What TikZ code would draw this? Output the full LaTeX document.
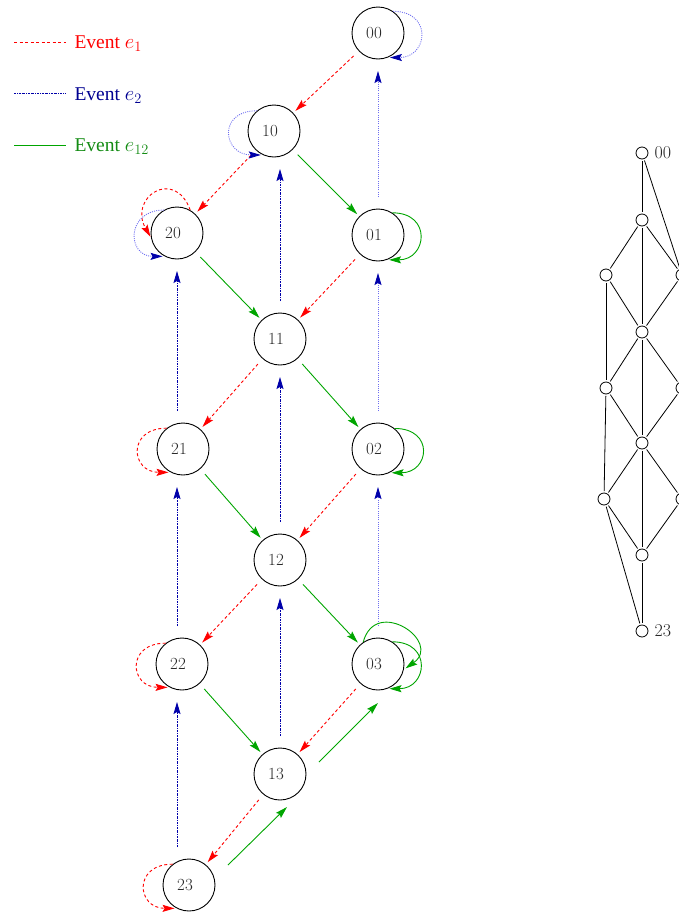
\documentclass[tikz,border=0pt]{standalone}
\usepackage{fontspec}
\newfontfamily\legendfont{Liberation Serif}
\usetikzlibrary{arrows.meta, calc}

\definecolor{evred}{RGB}{255,0,0}
\definecolor{evblue}{RGB}{0,0,170}
\definecolor{evlblue}{RGB}{110,110,240}
\definecolor{evgreen}{RGB}{0,165,0}
\definecolor{evgreendk}{RGB}{20,140,20}

\begin{document}
\begin{tikzpicture}[x=1pt,y=1pt,
  state/.style={circle,draw,line width=0.9pt,minimum size=52pt,inner sep=0pt,font=\fontsize{17}{17}\selectfont,text=black!85,execute at begin node=\hspace*{-8pt}},
  latnode/.style={circle,draw,line width=0.8pt,minimum size=12pt,inner sep=0pt},
  latlbl/.style={font=\fontsize{18}{18}\selectfont,text=black!85,inner sep=0pt,label distance=6pt},
  arrtip/.style={-{Stealth[length=12pt,width=7pt,inset=2pt]}},
  l1/.style={evred,line width=0.9pt,dash pattern=on 3pt off 2.5pt},
  l2/.style={evblue,line width=0.9pt,dash pattern=on 2pt off 1pt on 0.6pt off 1pt},
  l12/.style={evgreen,line width=0.9pt},
  e1/.style={l1,arrtip},
  e2/.style={l2,arrtip},
  e2l/.style={evlblue,line width=0.9pt,dash pattern=on 1pt off 1.2pt,-{Stealth[length=12pt,width=7pt,inset=2pt,color=evblue]}},
  e12/.style={l12,arrtip},
  diag/.style={shorten <=7pt,shorten >=3pt},
  vert/.style={shorten <=38pt,shorten >=38pt},
  rloop/.style={out=0,in=0,distance=40pt},
  lloop/.style={out=180,in=180,distance=40pt},
  lg/.style={anchor=base west,font=\legendfont\fontsize{19.5}{20}\selectfont},
  lat/.style={line width=0.8pt,shorten <=1.5pt,shorten >=1.5pt}
]
\useasboundingbox (0,0) rectangle (679,-916);

% legend
\node[lg,text=evred] (lg1) at (71,-48) {Event $e_1$};
\node[lg,text=evblue!85!black] (lg2) at (71,-100) {Event $e_2$};
\node[lg,text=evgreendk] (lg12) at (71,-151.5) {Event $e_{12}$};
\draw[l1] ([shift={(-57,6)}]lg1.base west) -- ++(52,0);
\draw[l2] ([shift={(-57,7)}]lg2.base west) -- ++(52,0);
\draw[l12] ([shift={(-57,6.5)}]lg12.base west) -- ++(52,0);

% states
\node[state] (n00) at (378,-33) {00};
\node[state] (n10) at (274,-131) {10};
\node[state] (n20) at (177,-233) {20};
\node[state] (n01) at (378,-235) {01};
\node[state] (n11) at (280,-339) {11};
\node[state] (n21) at (183,-449) {21};
\node[state] (n02) at (378,-449) {02};
\node[state] (n12) at (280,-560) {12};
\node[state] (n22) at (182,-664) {22};
\node[state] (n03) at (378,-664) {03};
\node[state] (n13) at (280,-774) {13};
\node[state] (n23) at (189,-885) {23};

% e1 moves
\foreach \a/\b in {n00/n10,n10/n20,n01/n11,n11/n21,n02/n12,n12/n22,n03/n13,n13/n23}
  \draw[e1,diag] (\a) -- (\b);
% e12 moves
\foreach \a/\b in {n10/n01,n20/n11,n11/n02,n21/n12,n12/n03,n22/n13}
  \draw[e12,diag] (\a) -- (\b);
\draw[e12] ($(n13)+(39,12)$) -- ($(n03)+(0,-39)$);
\draw[e12] ($(n23)+(39,20)$) -- ($(n13)+(7,-33)$);
% e2 moves
\draw[e2l,vert] (n01.center) -- (n00.center);
\draw[e2l,vert] (n02.center) -- (n01.center);
\draw[e2l,vert] (n03.center) -- (n02.center);
\draw[e2,vert] (n11.center) -- (n11 |- n10);
\draw[e2,vert] (n12.center) -- (n11.center);
\draw[e2,vert] (n13.center) -- (n12.center);
\draw[e2,vert] (n20 |- n21) -- (n20.center);
\draw[e2,vert] (n20 |- n22) -- (n20 |- n21);
\draw[e2,vert] (n20 |- n23) -- (n20 |- n22);

% self loops
\draw[e2l,shorten >=2pt] (n00.55) to[rloop] (n00.-68);
\draw[e2l,shorten >=2pt] (n10.130) to[lloop] (n10.-115);
\draw[e1,shorten >=1pt] (n20.60) to[out=110,in=120,distance=46pt] (n20.190);
\draw[e2l,shorten >=2pt] (n20.120) to[lloop,distance=38pt] (n20.-118);
\draw[e12,shorten >=2pt] (n01.57) to[rloop] (n01.-70);
\draw[e12,shorten >=2pt] (n02.51) to[rloop] (n02.-64);
\draw[e12,shorten >=2pt] (n03.124) to[out=75,in=35,distance=48pt] (n03.-12);
\draw[e12,shorten >=2pt] (n03.57) to[rloop] (n03.-69);
\foreach \s in {n21,n22,n23}
  \draw[e1,shorten >=2pt] (\s.128) to[lloop] (\s.-118);

% lattice of states
\node[latnode,label={[latlbl]right:00}] (t00) at (642,-153) {};
\node[latnode] (ta) at (642,-220) {};
\node[latnode] (tb) at (606,-275) {};
\node[latnode] (tc) at (682,-275) {};
\node[latnode] (td) at (642,-332) {};
\node[latnode] (te) at (606,-388) {};
\node[latnode] (tf) at (682,-388) {};
\node[latnode] (tg) at (642,-443) {};
\node[latnode] (th) at (604,-499) {};
\node[latnode] (ti) at (682,-499) {};
\node[latnode] (tj) at (642,-555) {};
\node[latnode,label={[latlbl]right:23}] (t23) at (642,-631) {};
\foreach \a/\b in {t00/ta,t00/tc,ta/tb,ta/tc,ta/td,tb/td,tc/td,tb/te,td/te,td/tf,td/tg,te/tg,tf/tg,te/th,tg/th,tg/ti,tg/tj,th/tj,ti/tj,tj/t23,th/t23}
  \draw[lat] (\a) -- (\b);
\end{tikzpicture}
\end{document}
